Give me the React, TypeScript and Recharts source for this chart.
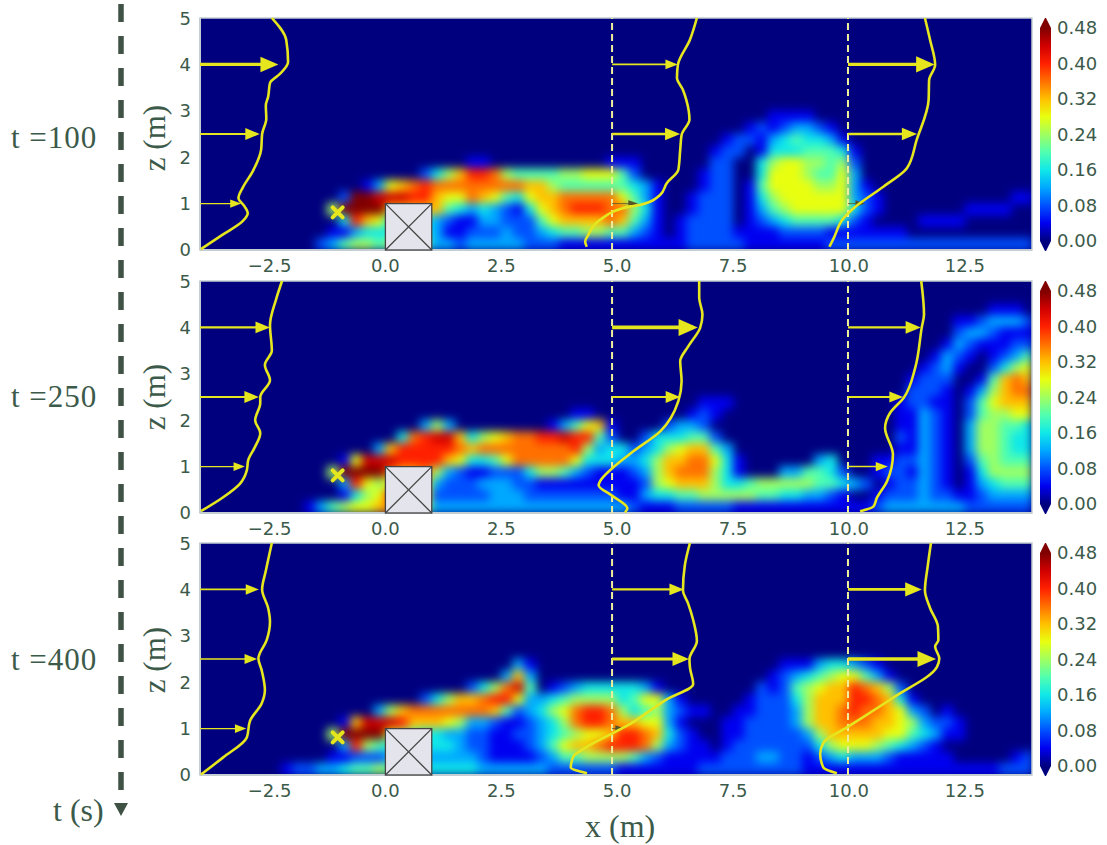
import { ReferenceArea, Scatter, ScatterChart, XAxis, YAxis } from "recharts";

// level -> colour, one step = 0.04
const levelColors = ["#00007f", "#0000f0", "#0050ff", "#00a8ff", "#10e8e8", "#50ffb0", "#a0ff60", "#e8ff10", "#ffc000", "#ff7000", "#ff2000", "#d00000", "#800000"];
const colorbarTicks = [0, 0.08, 0.16, 0.24, 0.32, 0.4, 0.48];
const xTicks = [-2.5, 0, 2.5, 5, 7.5, 10, 12.5];
const zTicks = [0, 1, 2, 3, 4, 5];

// rows run top to bottom, 0.25 m high, last row is z=0..0.25; each group of 4 is one metre from x=-4
const field100 = [
  ".... .... .... .... .... .... .... .... .... .... .... .... .111 1... .... .... .... ....",
  ".... .... .... .... .... .... .... .... .... .... .... ...1 2123 321. .... .... .... ....",
  ".... .... .... .... .... .... .... .... .... .... .... .122 1345 4431 .... .... .... ....",
  ".... .... .... .... .... .... .... .... .... .... .... 122. 1444 5554 1... .... .... ....",
  ".... .... .... .... .... ...1 1... .... ...1 11.. .... 22.. 4677 6656 2... .... .... ....",
  ".... .... .... .... ...2 468A A965 5556 6777 52.. ...1 22.. 4777 6557 3... .... .... ....",
  ".... .... .... ..13 789A 9999 9999 8865 5555 5431 ...1 22.1 5777 7667 31.. .... .... ....",
  ".... .... .... 2CCB BBAA 8779 8754 7889 9999 7531 ..12 22.1 4677 7777 321. .... .... ..11",
  ".... .... ...6 CCCC 8888 8543 4321 4789 AAA9 9641 ..12 22.1 3567 7777 421. .... ..11 11..",
  ".... .... .... 4A87 4444 3211 3322 2578 8889 8531 .122 22.1 2345 5554 21.. ..11 11.. ....",
  ".... .... ...1 1344 4444 3112 2232 2345 5665 5321 .122 2211 1122 2211 1111 1... .... ....",
  ".... .... ..23 5665 6555 3323 3333 2221 1111 1111 1122 2221 1111 1122 2222 2222 2222 2222",
];
const field250 = [
  ".... .... .... .... .... .... .... .... .... .... .... .... .... .... .... .... .... 111.",
  ".... .... .... .... .... .... .... .... .... .... .... .... .... .... .... .... .112 3332",
  ".... .... .... .... .... .... .... .... .... .... .... .... .... .... .... .... .233 2111",
  ".... .... .... .... .... .... .... .... .... .... .... .... .... .... .... .... 1321 1122",
  ".... .... .... .... .... .... .... .... .... .... .... .... .... .... .... ...1 321. 1235",
  ".... .... .... .... .... .... .... .... .... .... .... .... .... .... .... ..12 31.. 2467",
  ".... .... .... .... .... .... .... .... .... .... .... .... .... .... .... .122 2..1 5898",
  ".... .... .... .... .... .... .... .... .... .... .... .... .... .... .... .222 1.13 6899",
  ".... .... .... .... .... .... .... .... .... .... ...1 11.. .... .... .... 1221 1.25 7888",
  ".... .... .... .... .... .... .... .... 11.. .... ..12 1... .... .... .... 1132 1.25 6677",
  ".... .... .... .... ...3 63.. .... ..13 5781 .... 2332 .... .... .... .... 1132 1.36 6554",
  ".... .... .... .... .49A BB84 6789 9AAB AA52 ..24 4455 2... .... .... .... 2132 1.36 6544",
  ".... .... .... ...3 8AAA AA98 9999 9999 A634 4234 6788 53.. .... .... .... 1132 1.36 6544",
  ".... .... .... 17BB BAAA A874 4579 9999 7444 3346 8899 741. .... .34. ..11 2232 1.25 6555",
  ".... .... ...6 CCCC 9889 6321 1222 4665 3211 1236 8999 641. ..33 5542 ..12 2132 1.14 6666",
  ".... .... .... 3A76 7777 3222 3332 2111 1111 1126 7888 6445 6666 6554 32.1 2232 1.13 4555",
  ".... .... .... 1467 A777 2222 2333 2222 2222 1134 4556 6666 5544 3321 ..12 2232 2112 3333",
  ".... .... .135 6778 9866 3333 3333 3333 3333 3211 1222 2211 1111 1111 1123 3333 3322 2222",
];
const field400 = [
  ".... .... .... .... .... .... ...3 1... .... .... .... .... ..11 1344 321. .... .... ....",
  ".... .... .... .... .... .... ..38 3... .... .... .... .... .123 4567 7531 .... .... ....",
  ".... .... .... .... .... ...2 469B 5.12 3444 4431 .... .... 2125 6788 A986 2... .... ....",
  ".... .... .... .... ...2 4688 9AA7 3345 6666 4577 31.. ...1 2224 6888 AA98 41.. .... ....",
  ".... .... .... ...3 6899 9999 9852 3467 9AA9 6456 3211 ..11 2223 6889 A998 732. 1... ....",
  ".... .... .... 18BB BA88 8763 3211 2346 9AA9 8877 31.. .112 2223 6889 9988 7632 21.. ....",
  ".... .... ...6 CCCC 7654 4332 2112 2345 6778 AA98 421. .112 2222 3688 8887 7543 11.. ....",
  ".... .... .... 3A65 4444 4432 2111 2357 889A AA96 3211 .122 2222 2467 7765 4321 .... ....",
  ".... .... ...1 1222 3333 3333 2111 1235 5666 6532 1111 1222 3322 1234 3332 1111 1... ..12",
  ".... ...1 2233 4556 5554 4444 3333 3322 2222 1111 1112 2222 2222 1111 1111 1111 1111 1222",
];

// profile curves as [x, z]
const profile100a = [[-3.98, 0.02], [-3.51, 0.33], [-3.08, 0.62], [-2.97, 0.8], [-3.04, 0.94], [-3.17, 1.12], [-3.08, 1.34], [-2.86, 1.7], [-2.68, 2.17], [-2.66, 2.5], [-2.57, 2.83], [-2.58, 3.12], [-2.53, 3.3], [-2.49, 3.6], [-2.27, 3.8], [-2.1, 4.05], [-2.14, 4.53], [-2.45, 5]];
const profile100b = [[4.345, 0.07], [4.31, 0.18], [4.38, 0.33], [4.63, 0.65], [5.28, 0.94], [5.49, 0.97], [5.93, 1.19], [6.07, 1.44], [6.32, 1.73], [6.36, 2.16], [6.39, 2.48], [6.56, 2.81], [6.49, 3.24], [6.42, 3.45], [6.29, 3.71], [6.31, 3.99], [6.57, 4.53], [6.72, 5]];
const profile100c = [[9.58, 0.07], [9.67, 0.25], [9.88, 0.68], [10.1, 0.9], [10.75, 1.37], [11.25, 1.76], [11.46, 2.37], [11.72, 3.24], [11.73, 3.66], [11.86, 3.99], [11.75, 4.53], [11.64, 5]];
const profile250a = [[-3.98, 0.04], [-3.5, 0.34], [-3.14, 0.63], [-2.99, 0.92], [-2.96, 1.14], [-2.81, 1.43], [-2.7, 1.72], [-2.81, 2.0], [-2.7, 2.37], [-2.7, 2.5], [-2.49, 2.86], [-2.6, 3.19], [-2.45, 3.5], [-2.49, 4.05], [-2.36, 4.6], [-2.23, 5]];
const profile250b = [[5.17, 0.01], [5.22, 0.1], [4.88, 0.38], [4.6, 0.6], [4.63, 0.68], [4.9, 0.97], [5.35, 1.33], [5.93, 1.76], [6.32, 2.41], [6.39, 2.84], [6.36, 3.27], [6.54, 3.6], [6.79, 3.99], [6.84, 4.28], [6.77, 4.64], [6.77, 5]];
const profile250c = [[10.24, 0.04], [10.53, 0.14], [10.6, 0.32], [10.82, 0.68], [10.95, 1.26], [10.78, 1.83], [10.89, 2.16], [11.18, 2.48], [11.43, 3.13], [11.57, 3.99], [11.62, 4.28], [11.56, 5]];
const profile400a = [[-3.98, 0.01], [-3.5, 0.38], [-2.99, 0.81], [-2.92, 1.17], [-2.67, 1.54], [-2.6, 1.83], [-2.67, 2.26], [-2.74, 2.51], [-2.56, 2.91], [-2.49, 3.3], [-2.53, 3.6], [-2.66, 4.0], [-2.58, 4.4], [-2.45, 5]];
const profile400b = [[4.35, 0.04], [4.0, 0.16], [4.06, 0.41], [4.27, 0.56], [5.28, 1.1], [6.07, 1.63], [6.64, 1.96], [6.57, 2.32], [6.56, 2.5], [6.72, 2.89], [6.64, 3.34], [6.53, 3.7], [6.42, 3.98], [6.46, 4.52], [6.57, 5]];
const profile400c = [[9.74, 0.04], [9.45, 0.16], [9.38, 0.45], [9.45, 0.7], [9.95, 1.02], [10.96, 1.67], [11.9, 2.33], [11.95, 2.51], [11.86, 2.77], [11.93, 2.91], [11.92, 3.2], [11.75, 3.6], [11.64, 3.98], [11.7, 4.5], [11.77, 5]];

// arrows as [z, from x, to x, thickness]
const arrows100 = [[4, -4, -2.31, 3.2], [2.5, -4, -2.71, 2.2], [1, -4, -3.11, 1.2], [4, 4.89, 6.31, 1.6], [2.5, 4.89, 6.36, 2.4], [1, 4.89, 5.45, 0.8], [4, 9.98, 11.85, 3.4], [2.5, 9.98, 11.47, 2.4], [1, 9.98, 10.35, 0.8]];
const arrows250 = [[4, -4, -2.49, 2.2], [2.5, -4, -2.73, 2.2], [1, -4, -3.03, 1.3], [4, 4.89, 6.74, 3.6], [2.5, 4.89, 6.36, 2.2], [4, 9.98, 11.55, 2.4], [2.5, 9.98, 11.17, 2], [1, 9.98, 10.84, 1.5]];
const arrows400 = [[4, -4, -2.73, 1.8], [2.5, -4, -2.77, 1.6], [1, -4, -3, 1.3], [4, 4.89, 6.44, 2.2], [2.5, 4.89, 6.55, 2.8], [1, 4.89, 5.17, 0.8], [4, 9.98, 11.57, 2.8], [2.5, 9.98, 11.88, 3.4]];

const sections = [4.89, 9.98];
const releasePoint = [[-1.03, 0.81]];
const obstacle = [[0.5, 0.5]];

const PANEL_TOPS = [18, 281, 543];
const LABEL_TOPS = [138, 397, 660];
const INK = "#3c5a4a";
const YELLOW = "#e6e61e";
const MX = 46.35;
const MZ = 46.4;

function toCells(rows: string[]) {
  const cells: { x: number; z: number; level: number }[] = [];
  rows.forEach((row, i) => {
    const chars = row.replace(/ /g, "");
    const z = (rows.length - 1 - i) * 0.25 + 0.125;
    chars.split("").forEach((ch, col) => {
      if (ch === ".") return;
      const level = parseInt(ch, 16);
      const x = -4 + col * 0.25 + 0.125;
      const zs = z === 0.125 ? [z, -0.125, -0.375] : [z];
      const xs = col === 71 ? [x, x + 0.25, x + 0.5] : [x];
      zs.forEach((zz) => xs.forEach((xx) => cells.push({ x: xx, z: zz, level })));
    });
  });
  return cells;
}

const Hidden = () => <g />;

const CellShape = (p: any) => (
  <rect x={p.cx - 6.2} y={p.cy - 6.2} width={12.4} height={12.4} fill={levelColors[p.payload.level]} />
);

const BoxShape = (p: any) => (
  <g stroke="#444" strokeWidth={1.3}>
    <rect x={p.cx - MX / 2} y={p.cy - MZ / 2} width={MX} height={MZ} fill="#e4e4ec" />
    <line x1={p.cx - MX / 2} y1={p.cy - MZ / 2} x2={p.cx + MX / 2} y2={p.cy + MZ / 2} />
    <line x1={p.cx - MX / 2} y1={p.cy + MZ / 2} x2={p.cx + MX / 2} y2={p.cy - MZ / 2} />
  </g>
);

const CrossShape = (p: any) => (
  <g stroke={YELLOW} strokeWidth={4} strokeLinecap="round">
    <line x1={p.cx - 5} y1={p.cy - 5} x2={p.cx + 5} y2={p.cy + 5} />
    <line x1={p.cx - 5} y1={p.cy + 5} x2={p.cx + 5} y2={p.cy - 5} />
  </g>
);

const HeadShape = (p: any) => {
  const w = p.payload.w;
  const len = 7 + w * 3.4;
  const half = 2 + w * 1.8;
  return <path d={`M${p.cx},${p.cy}L${p.cx - len},${p.cy - half}L${p.cx - len},${p.cy + half}Z`} fill={p.payload.color} />;
};

const TipShape = (p: any) => {
  const dir = p.payload.v > 0 ? -1 : 1;
  return <path d={`M${p.cx - 5.5},${p.cy}L${p.cx + 5.5},${p.cy}L${p.cx},${p.cy + dir * 11}Z`} fill={p.payload.v > 0 ? levelColors[12] : levelColors[0]} />;
};

const fmtX = (v: number) => (v < 0 ? `\u2212${Math.abs(v).toFixed(1)}` : v.toFixed(1));
const tickStyle = { fill: INK, fontSize: 18, fontFamily: "DejaVu Sans" };

// the blurred field sits in its own clipped box under the axes
function Field({ top, field }: { top: number; field: string[] }) {
  return (
    <div style={{ position: "absolute", left: 200, top, width: 832, height: 232, overflow: "hidden", background: levelColors[0] }}>
      <div style={{ position: "absolute", left: -20, top: -20, filter: "blur(5px)" }}>
        <ScatterChart width={872} height={272} margin={{ top: 20, right: 20, bottom: 20, left: 20 }}>
          <XAxis type="number" dataKey="x" domain={[-4, 13.95]} allowDataOverflow hide />
          <YAxis type="number" dataKey="z" domain={[0, 5]} allowDataOverflow hide />
          <Scatter data={toCells(field)} shape={CellShape} isAnimationActive={false} />
        </ScatterChart>
      </div>
    </div>
  );
}

function Panel({ top, profiles, arrows }: { top: number; profiles: number[][][]; arrows: number[][] }) {
  return (
    <div style={{ position: "absolute", left: 150, top: top - 10 }}>
      <ScatterChart width={892} height={267} margin={{ top: 10, right: 10, bottom: 0, left: 0 }}>
        <XAxis type="number" dataKey="x" domain={[-4, 13.95]} ticks={xTicks} tickFormatter={fmtX} height={25} tick={tickStyle} tickLine={false} axisLine={{ stroke: "#c4ced2", strokeWidth: 2 }} interval={0} tickMargin={3} />
        <YAxis type="number" dataKey="z" domain={[0, 5]} ticks={zTicks} width={50} tick={tickStyle} tickLine={false} axisLine={{ stroke: "#c4ced2", strokeWidth: 2 }} tickMargin={3} />
        <ReferenceArea x1={-4} x2={13.95} y1={0} y2={5} fill="none" stroke="#c4ced2" strokeWidth={1.5} />
        {sections.map((s) => (
          <Scatter key={s} data={[{ x: s, z: 0 }, { x: s, z: 5 }]} line={{ stroke: "#eeee9c", strokeWidth: 2, strokeDasharray: "7 4" }} shape={Hidden} isAnimationActive={false} />
        ))}
        <Scatter data={obstacle.map(([x, z]) => ({ x, z }))} shape={BoxShape} isAnimationActive={false} />
        {arrows.map(([z, from, to, w], i) => {
          const color = w < 1 ? "#55552a" : YELLOW;
          return (
            <Scatter key={i} data={[{ x: from, z, w, color }, { x: to - 0.1, z, w, color }]} line={{ stroke: color, strokeWidth: w }} shape={Hidden} isAnimationActive={false} />
          );
        })}
        {arrows.map(([z, , to, w], i) => (
          <Scatter key={i} data={[{ x: to, z, w, color: w < 1 ? "#55552a" : YELLOW }]} shape={HeadShape} isAnimationActive={false} />
        ))}
        {profiles.map((pts, i) => (
          <Scatter key={i} data={pts.map(([x, z]) => ({ x, z }))} line={{ stroke: YELLOW, strokeWidth: 2.6 }} lineJointType="monotoneY" shape={Hidden} isAnimationActive={false} />
        ))}
        <Scatter data={releasePoint.map(([x, z]) => ({ x, z }))} shape={CrossShape} isAnimationActive={false} />
      </ScatterChart>
    </div>
  );
}

function Colorbar({ top }: { top: number }) {
  return (
    <div style={{ position: "absolute", left: 1040, top }}>
      <ScatterChart width={67} height={233} margin={{ top: 10, right: 0, bottom: 10, left: 0 }}>
        <XAxis type="number" dataKey="x" domain={[0, 1]} hide />
        <YAxis type="number" dataKey="v" orientation="right" domain={[0, 0.48]} ticks={colorbarTicks} tickFormatter={(v: number) => v.toFixed(2)} width={56} tick={tickStyle} tickLine={false} axisLine={false} tickMargin={0} interval={0} />
        <ReferenceArea x1={0} x2={1} y1={0} y2={0.48} fill="url(#cbarGrad)" fillOpacity={1} stroke="none" />
        <Scatter data={[{ x: 0.5, v: 0 }, { x: 0.5, v: 0.48 }]} shape={TipShape} isAnimationActive={false} />
      </ScatterChart>
    </div>
  );
}

const serif = { position: "absolute", fontFamily: "Liberation Serif", color: INK, whiteSpace: "nowrap" } as const;

export default function App() {
  return (
    <div style={{ position: "absolute", left: 0, top: 0, width: 1107, height: 845, background: "#fff", overflow: "hidden" }}>
      <svg width={1107} height={845} style={{ position: "absolute", left: 0, top: 0 }}>
        <defs>
          <linearGradient id="cbarGrad" x1="0" y1="1" x2="0" y2="0">
            {levelColors.map((c, i) => (
              <stop key={c} offset={`${(i / 12) * 100}%`} stopColor={c} />
            ))}
          </linearGradient>
        </defs>
        <line x1={121} y1={4} x2={121} y2={800} stroke="#3f5245" strokeWidth={5.5} strokeDasharray="18 14" />
        <path d="M114,803L128,803L121,816Z" fill="#3f5245" />
      </svg>
      <Field top={PANEL_TOPS[0]} field={field100} />
      <Field top={PANEL_TOPS[1]} field={field250} />
      <Field top={PANEL_TOPS[2]} field={field400} />
      <Panel top={PANEL_TOPS[0]} profiles={[profile100a, profile100b, profile100c]} arrows={arrows100} />
      <Panel top={PANEL_TOPS[1]} profiles={[profile250a, profile250b, profile250c]} arrows={arrows250} />
      <Panel top={PANEL_TOPS[2]} profiles={[profile400a, profile400b, profile400c]} arrows={arrows400} />
      <Colorbar top={18} />
      <Colorbar top={281} />
      <Colorbar top={543} />
      {["t =100", "t =250", "t =400"].map((t, i) => (
        <div key={t} style={{ ...serif, left: 11, top: LABEL_TOPS[i] - 18, fontSize: 31, lineHeight: "36px", letterSpacing: 1 }}>{t}</div>
      ))}
      {LABEL_TOPS.map((y) => (
        <div key={y} style={{ ...serif, left: 155, top: y, fontSize: 31, lineHeight: "30px", transform: "translate(-50%,-50%) rotate(-90deg)" }}>z (m)</div>
      ))}
      <div style={{ ...serif, left: 585, top: 808, fontSize: 32, lineHeight: "36px" }}>x (m)</div>
      <div style={{ ...serif, left: 53, top: 792, fontSize: 32, lineHeight: "36px" }}>t (s)</div>
    </div>
  );
}
